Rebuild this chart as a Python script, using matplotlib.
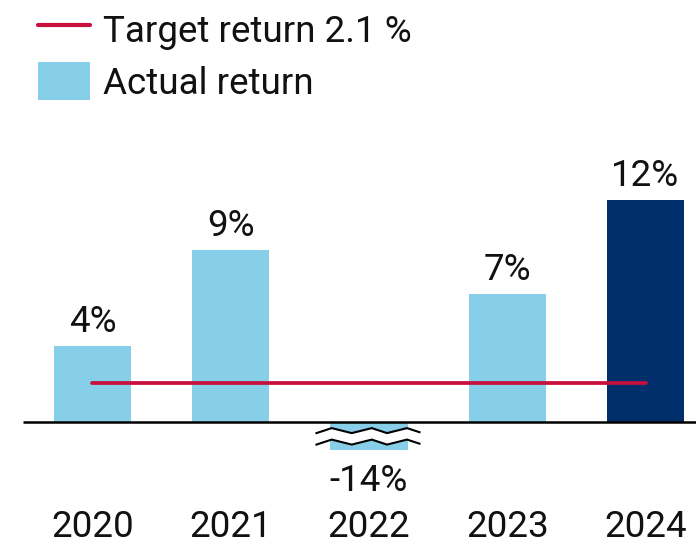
import numpy as np
import matplotlib
matplotlib.use("Agg")
import matplotlib.pyplot as plt
from matplotlib.lines import Line2D
from matplotlib.patches import Rectangle, Polygon

plt.rcParams['font.family'] = ['Roboto', 'DejaVu Sans']

# ---- data ----
years = ["2020", "2021", "2022", "2023", "2024"]
actual_return = [4.1, 9.3, -14.0, 6.9, 12.0]
value_labels = ["4%", "9%", "-14%", "7%", "12%"]
target_return = 2.1
legend_labels = ["Target return 2.1 %", "Actual return"]

# ---- style ----
light_blue = "#87CEE8"
navy = "#002F6C"
red = "#C8103E"
fs = 26.5
break_height = -1.5   # displayed height for the axis-broken bar
break_threshold = -5

W, H = 696, 548
fig = plt.figure(figsize=(W / 100, H / 100), dpi=100)
ax = fig.add_axes([0, 0, 1, 1])
ax.axis("off")
ax.set_xlim(-0.669, 4.365)
ax.set_ylim(-6.81, 22.81)

x = np.arange(len(years))
vals = np.array(actual_return)
shown = np.where(vals < break_threshold, break_height, vals)
colors = [light_blue] * (len(years) - 1) + [navy]
ax.bar(x, shown, width=0.56, color=colors, zorder=2)

# axis line
ax.plot([-0.503, 4.365], [0, 0], color="black", lw=1.8, zorder=3, solid_capstyle="butt")

# target line
ax.plot([x[0], x[-1]], [target_return, target_return], color=red, lw=2.7, zorder=4,
        solid_capstyle="round")

# broken-bar zigzag
for i, v in enumerate(vals):
    if v < break_threshold:
        dx = np.array([-0.38, -0.27, -0.125, 0.02, 0.13, 0.275, 0.365])
        dy = np.array([0.0, 0.27, 0.0, 0.27, 0.0, 0.27, 0.05])
        top = -0.6 + dy
        bot = top - 0.62
        poly = Polygon(np.column_stack([np.r_[x[i] + dx, (x[i] + dx)[::-1]],
                                        np.r_[top, bot[::-1]]]),
                       closed=True, facecolor="white", edgecolor="none", zorder=5)
        ax.add_patch(poly)
        ax.plot(x[i] + dx, top, color="black", lw=1.5, zorder=6)
        ax.plot(x[i] + dx, bot, color="black", lw=1.5, zorder=6)

# value labels
for i, (s, lab) in enumerate(zip(shown, value_labels)):
    if s >= 0:
        ax.annotate(lab, (x[i], s), xytext=(0, 10), textcoords="offset points",
                    ha="center", va="baseline", fontsize=fs, color="#111111")
    else:
        ax.annotate(lab, (x[i], s), xytext=(0, -30), textcoords="offset points",
                    ha="center", va="baseline", fontsize=fs, color="#111111")

# year labels
for i, yr in enumerate(years):
    ax.text(x[i], 1 - 537 / H, yr, transform=ax.get_xaxis_transform(),
            ha="center", va="baseline", fontsize=fs, color="#111111")

# legend (manual)
fig.add_artist(Line2D([38 / W, 90 / W], [1 - 25 / H] * 2, color=red, lw=3,
                      solid_capstyle="round"))
fig.add_artist(Rectangle((38 / W, 1 - 100 / H), 52 / W, 38 / H, facecolor=light_blue,
                         edgecolor="none", transform=fig.transFigure))
fig.text(103 / W, 1 - 42 / H, legend_labels[0], fontsize=fs, va="baseline", ha="left",
         color="#111111")
fig.text(103 / W, 1 - 94 / H, legend_labels[1], fontsize=fs, va="baseline", ha="left",
         color="#111111")

fig.savefig("out.png", dpi=100)
